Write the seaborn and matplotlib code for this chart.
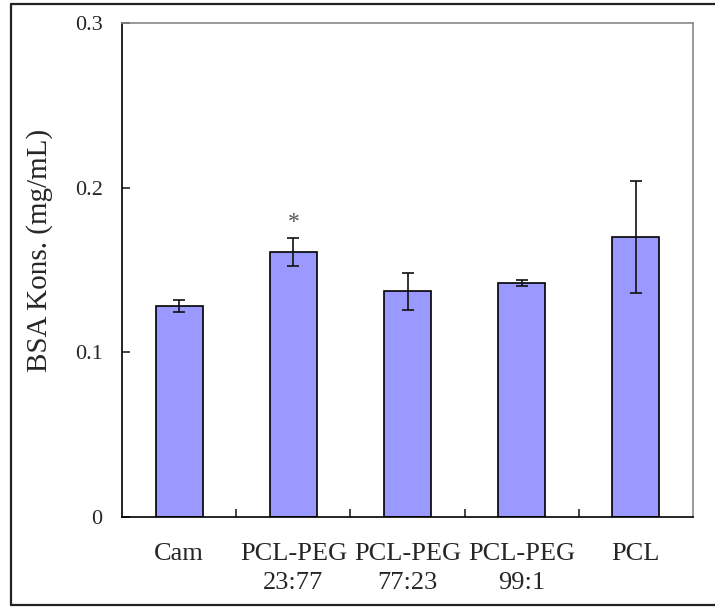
import matplotlib
matplotlib.use("Agg")
import matplotlib.pyplot as plt
from matplotlib.lines import Line2D
import seaborn as sns
import pandas as pd

groups = ["Cam", "PCL-PEG\n23:77", "PCL-PEG\n77:23", "PCL-PEG\n99:1", "PCL"]
bsa_mean = [0.128, 0.161, 0.137, 0.142, 0.170]
bsa_sd = [0.0035, 0.0083, 0.0112, 0.002, 0.034]
star_group = 1
star_y = 0.1755

sns.set_style("ticks")
plt.rcParams["font.family"] = ["Liberation Serif", "DejaVu Serif"]

df = pd.DataFrame({"group": groups, "bsa": bsa_mean})

fig = plt.figure(figsize=(7.15, 6.08), dpi=100)
ax = fig.add_axes([122 / 715, 1 - 517 / 608, 571 / 715, 494 / 608])

sns.barplot(data=df, x="group", y="bsa", color="#9999FF", saturation=1,
            width=0.41, edgecolor="black", linewidth=1.2, errorbar=None, ax=ax)
ax.errorbar(range(len(groups)), bsa_mean, yerr=bsa_sd, fmt="none",
            ecolor="#111111", elinewidth=1.2, capsize=4, capthick=1.2)
ax.text(star_group, star_y, "*", ha="center", va="baseline",
        fontsize=17, color="#555555")

ax.set_xlim(-0.5, len(groups) - 0.5)
ax.set_ylim(0, 0.3)
ax.set_yticks([0, 0.1, 0.2, 0.3])
ax.set_yticklabels(["0", "0.1", "0.2", "0.3"])
ax.set_xticks(range(len(groups)))
ax.set_xticklabels(groups, linespacing=1.4)
ax.set_xticks([i + 0.5 for i in range(len(groups) - 1)], minor=True)
ax.tick_params(axis="x", which="major", length=0, pad=19, labelsize=19)
ax.tick_params(axis="x", which="minor", direction="in", length=6, width=1.2)
ax.tick_params(axis="y", direction="in", length=6, width=1.2, pad=14,
               labelsize=16)

ax.set_xlabel("")
ax.set_ylabel("BSA Kons. (mg/mL)", fontsize=21)
ax.yaxis.set_label_coords(-0.121, 0.54)

for side in ["left", "bottom"]:
    ax.spines[side].set_color("black")
    ax.spines[side].set_linewidth(1.2)
for side in ["top", "right"]:
    ax.spines[side].set_visible(True)
    ax.spines[side].set_color("#888888")
    ax.spines[side].set_linewidth(1.2)

# outer frame (open on the right)
fw, fh = 715, 608
for xs, ys in [([11, 11], [4, 605]), ([11, fw], [4, 4]), ([11, fw], [605, 605])]:
    fig.add_artist(Line2D([x / fw for x in xs], [1 - y / fh for y in ys],
                          color="#222222", linewidth=1.6))

plt.savefig("out.png", dpi=100)
